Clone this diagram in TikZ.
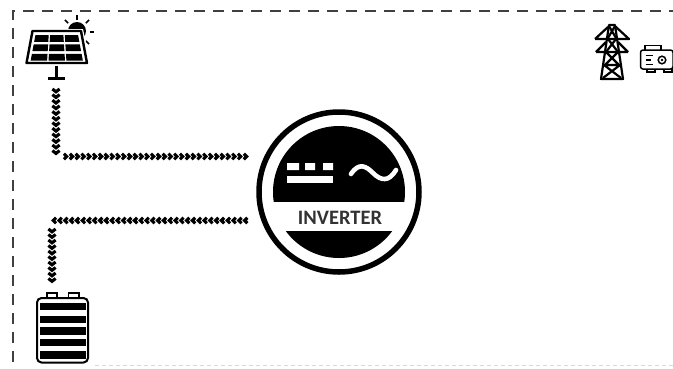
\documentclass[tikz,border=0pt]{standalone}
\usepackage{fontspec}
\setmainfont{Carlito}
\begin{document}
\begin{tikzpicture}[x=1pt,y=-1pt,line join=miter,
 frame/.style={dashed,dash pattern=on 11pt off 8pt,line width=1.5pt,draw=black!75},
 chev/.style={line width=3.1pt,black}]
\useasboundingbox (0,0) rectangle (673,368);
\fill[white] (0,0) rectangle (673,368);
% frame
\coordinate (fa) at (13,362); \coordinate (fb) at (13,11); \coordinate (fc) at (673,11);
\draw[frame] (fa) -- (fb) -- (fc);
\draw[dash pattern=on 4pt off 3pt,line width=.6pt,black!15] (95,365.5) -- (673,365.5);
% chevrons
\newcommand{\chevR}[2]{\draw[chev] (#1-2,#2-2.8) -- (#1+.8,#2) -- (#1-2,#2+2.8);}
\newcommand{\chevL}[2]{\draw[chev] (#1+2,#2-2.8) -- (#1-.8,#2) -- (#1+2,#2+2.8);}
\newcommand{\chevD}[2]{\draw[chev] (#1-3.6,#2-2) -- (#1,#2+.8) -- (#1+3.6,#2-2);}
\foreach \y in {91,96.6,...,158} {\chevD{56}{\y}}
\foreach \x in {66,71.8,...,247} {\chevR{\x}{156.5}}
\foreach \x in {54,59.8,...,250} {\chevL{\x}{220.5}}
\foreach \y in {231,236.5,...,285} {\chevD{52}{\y}}
% solar
\fill (77,31) circle (9);
\foreach \a in {-90,-135,-45,0,45} {\draw[line width=1.6pt] (77,32) ++(\a:12.5) -- ++(\a:4.5);}
\fill[white] (29,29) -- (83,29) -- (91,66) -- (23,66) -- cycle;
\draw[line width=2.4pt,line join=round] (32.5,31) -- (81,31) -- (87,63) -- (26.5,63) -- cycle;
\foreach \i in {0,1,2} \foreach \j in {0,1,2} {
 \pgfmathsetmacro{\ya}{35+\j*9.4}\pgfmathsetmacro{\yb}{\ya+6.8}
 \pgfmathsetmacro{\ka}{(\ya-31)/32}\pgfmathsetmacro{\kb}{(\yb-31)/32}
 \pgfmathsetmacro{\xa}{32.5-6*\ka}\pgfmathsetmacro{\xb}{81+6*\ka}
 \pgfmathsetmacro{\xc}{32.5-6*\kb}\pgfmathsetmacro{\xd}{81+6*\kb}
 \pgfmathsetmacro{\wa}{(\xb-\xa-6)/3}\pgfmathsetmacro{\wb}{(\xd-\xc-6)/3}
 \fill (\xa+3+\i*\wa+.7,\ya) -- (\xa+3+\i*\wa+\wa-.7,\ya) -- (\xc+3+\i*\wb+\wb-.7,\yb) -- (\xc+3+\i*\wb+.7,\yb) -- cycle;
}
\draw[line width=3.6pt] (56.5,66) -- (56.5,78);
\draw[line width=2.8pt] (48,78.5) -- (65,78.5);
% inverter
\node[circle,draw,line width=5.5pt,minimum size=160pt,inner sep=0,fill=white] (inv) at (339,192) {};
\begin{scope}
\clip (339,192) circle (66);
\fill (260,120) rectangle (420,201.5);
\fill (260,231) rectangle (420,270);
\end{scope}
\fill[white] (287,163) rectangle (299,170) (305,163) rectangle (315,170) (323,163) rectangle (333,170);
\fill[white] (287,176) rectangle (333,183);
\draw[white,line width=4.6pt,line cap=round] (351,174) .. controls (359,162) and (366,166) .. (373,173) .. controls (381,181) and (389,182) .. (396,170);
\node[font=\bfseries\fontsize{20.5}{22}\selectfont,text=black!80,inner sep=0] (lab) at (340,218) {INVERTER};
% tower
\begin{scope}[line width=2.2pt,line join=round]
\draw (601,79) -- (609,25) -- (615,25) -- (623,79) -- cycle;
\draw (595,39) -- (608,27) (616,27) -- (629,39) -- cycle (595,39) -- (629,39);
\draw (596,52) -- (606,42) (618,42) -- (628,52) (596,52) -- (628,52);
\draw (608,39)--(618,52) (616,39)--(606,52) (606,52)--(619,65) (618,52)--(605,65) (604,65)--(620,65) (604,65)--(621,78) (620,65)--(603,78) (609,26)--(616,38) (615,26)--(608,38);
\end{scope}
% generator
\begin{scope}[line width=1.5pt]
\draw[rounded corners=2.5pt] (640.5,50) rectangle (673,69);
\draw (645,50) -- (645,45.5) -- (661,45.5) -- (661,50) (647,69)--(647,72)--(655,72)--(655,69) (664,69)--(664,72)--(672,72)--(672,69);
\draw (645.5,55.5)--(653,55.5) (645.5,60)--(651,60) (645.5,64.5)--(653,64.5);
\draw (662,60) circle (3.8); \fill (662,60) circle (1.3);
\end{scope}
% battery
\draw[line width=1.8pt] (47,299) -- (47,293) -- (57,293) -- (57,299) (68.5,299) -- (68.5,293) -- (79,293) -- (79,299);
\draw[line width=2pt,rounded corners=4.5pt,fill=white] (37,298) rectangle (88,362.5);
\foreach \ya/\yb in {303/310,316/323,327/334.5,338.5/346,351/358.5} {\fill (40,\ya) rectangle (86,\yb);}
\end{tikzpicture}
\end{document}
